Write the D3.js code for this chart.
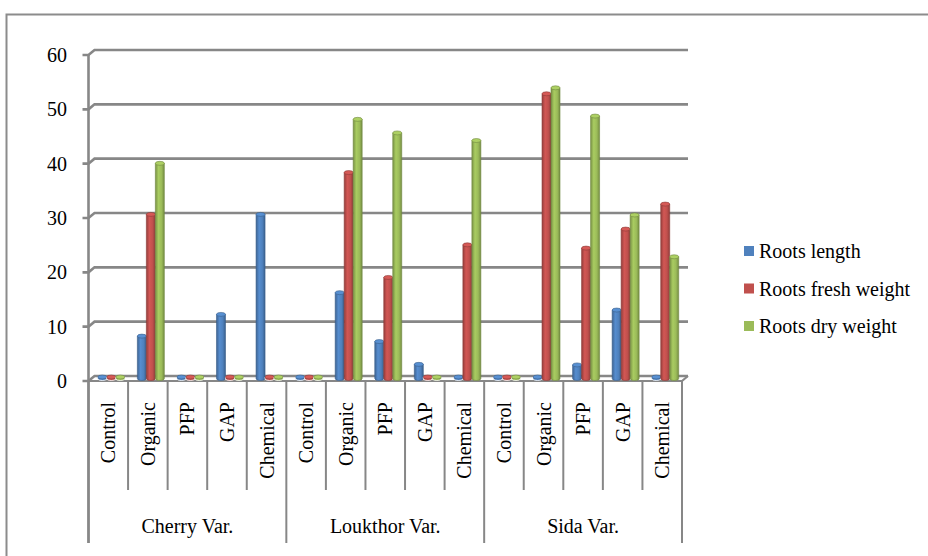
<!DOCTYPE html>
<html>
<head>
<meta charset="utf-8">
<script src="https://cdn.jsdelivr.net/npm/d3@7"></script>
<style>
  html, body { margin: 0; padding: 0; background: #fff; }
  svg { display: block; }
  text { font-family: "Liberation Serif", "Times New Roman", serif; fill: #000; }
</style>
</head>
<body>
<svg id="chart" width="928" height="556"></svg>
<script>
// Varieties and treatments on the two-level category axis
const varieties = ["Cherry Var.", "Loukthor Var.", "Sida Var."];
const treatments = ["Control", "Organic", "PFP", "GAP", "Chemical"];

// Series names and colours
const seriesNames = ["Roots length", "Roots fresh weight", "Roots dry weight"];
const seriesColors = ["#4F81BD", "#C0504D", "#9BBB59"];

// Values per category, in order Cherry (5), Loukthor (5), Sida (5)
const rootsLength      = [0, 7.8, 0, 11.8, 30.2,   0, 15.8, 6.8, 2.6, 0,     0, 0, 2.5, 12.6, 0];
const rootsFreshWeight = [0, 30.2, 0, 0, 0,        0, 37.9, 18.6, 0, 24.6,  0, 52.4, 24.0, 27.5, 32.1];
const rootsDryWeight   = [0, 39.6, 0, 0, 0,        0, 47.7, 45.2, 0, 43.8,  0, 53.5, 48.3, 30.1, 22.4];

const yTicks = [0, 10, 20, 30, 40, 50, 60];

const fontSize = 20;
const seriesValues = [rootsLength, rootsFreshWeight, rootsDryWeight];
const categories = [];
varieties.forEach(v => treatments.forEach(t => categories.push(v + "|" + t)));

const svg = d3.select("#chart");
const gridColor = "#878787";

// Outer chart frame
svg.append("rect")
  .attr("x", 6.5).attr("y", 14.5)
  .attr("width", 1000).attr("height", 700)
  .attr("fill", "none").attr("stroke", "#8c8c8c").attr("stroke-width", 2);

// Scales: front plane of the 3D box
const x = d3.scaleBand().domain(categories).range([88.5, 682]).padding(0);
const y = d3.scaleLinear().domain([0, 60]).range([381, 55]);
const xSub = d3.scaleBand().domain(seriesNames).range([0, x.bandwidth()])
  .paddingInner(0).paddingOuter(0.7);

// depth offset of the back wall and the bar plane
const depth = { dx: 6, dy: -5 };
const mid = { dx: 3, dy: -2.5 };

const x0 = x.range()[0], x1 = x.range()[1];

// Back wall gridlines with the angled connector to the value axis
const grid = svg.append("g");
yTicks.forEach(v => {
  const yy = y(v);
  grid.append("path")
    .attr("d", `M${x0 - 6},${yy} L${x0},${yy} L${x0 + depth.dx},${yy + depth.dy} L${x1 + depth.dx},${yy + depth.dy}`)
    .attr("fill", "none").attr("stroke", gridColor).attr("stroke-width", 2.6);
});

// Floor front edge and right side
grid.append("path")
  .attr("d", `M${x0},${y(0)} L${x1},${y(0)} L${x1 + depth.dx},${y(0) + depth.dy}`)
  .attr("fill", "none").attr("stroke", gridColor).attr("stroke-width", 2.2);

// Value axis line
svg.append("line")
  .attr("x1", x0).attr("x2", x0).attr("y1", y(60)).attr("y2", 543)
  .attr("stroke", gridColor).attr("stroke-width", 2.6);

// Value tick labels
svg.append("g").selectAll("text").data(yTicks).join("text")
  .attr("x", 67).attr("y", d => y(d)).attr("dy", "0.35em")
  .attr("text-anchor", "end").attr("font-size", fontSize)
  .text(d => d);

// Cylinder gradients
const defs = svg.append("defs");
seriesColors.forEach((c, i) => {
  const base = d3.color(c);
  const g = defs.append("linearGradient").attr("id", "cyl" + i)
    .attr("x1", "0%").attr("x2", "100%").attr("y1", "0%").attr("y2", "0%");
  g.append("stop").attr("offset", "0%").attr("stop-color", base.darker(0.7));
  g.append("stop").attr("offset", "35%").attr("stop-color", base.brighter(0.25));
  g.append("stop").attr("offset", "70%").attr("stop-color", base);
  g.append("stop").attr("offset", "100%").attr("stop-color", base.darker(0.8));
});

// Bars drawn as cylinders
const barW = xSub.bandwidth();
const bars = svg.append("g");
const barData = [];
categories.forEach((cat, ci) => {
  seriesNames.forEach((s, si) => {
    barData.push({ cat, s, si, v: seriesValues[si][ci] });
  });
});
const ry = 2;
barData.forEach(d => {
  const bx = x(d.cat) + xSub(d.s) + mid.dx;
  const yb = y(0) + mid.dy;
  let yt = y(d.v) + mid.dy;
  if (yb - yt < 1.5) yt = yb - 1.5;
  const col = d3.color(seriesColors[d.si]);
  const g = bars.append("g");
  // body
  g.append("path")
    .attr("d", `M${bx},${yt} L${bx},${yb} A${barW / 2},${ry} 0 0 0 ${bx + barW},${yb} L${bx + barW},${yt} Z`)
    .attr("fill", `url(#cyl${d.si})`)
    .attr("stroke", d.v === 0 ? "#fff" : col.darker(0.9)).attr("stroke-width", d.v === 0 ? 0.8 : 0.6);
  // top cap
  g.append("ellipse")
    .attr("cx", bx + barW / 2).attr("cy", yt)
    .attr("rx", barW / 2).attr("ry", ry)
    .attr("fill", col.brighter(0.3))
    .attr("stroke", col.darker(0.9)).attr("stroke-width", 0.6);
});

// Category axis: separators, inner and outer labels
const catAxis = svg.append("g");
const bounds = x.domain().map(c => x(c)).concat([x1]);
bounds.forEach((bx, i) => {
  const isGroup = i % treatments.length === 0;
  catAxis.append("line")
    .attr("x1", bx).attr("x2", bx)
    .attr("y1", y(0)).attr("y2", isGroup ? 543 : 490)
    .attr("stroke", gridColor).attr("stroke-width", 2);
});

catAxis.selectAll("text.treat").data(categories).join("text")
  .attr("class", "treat")
  .attr("transform", d => `translate(${x(d) + x.bandwidth() / 2},402) rotate(-90)`)
  .attr("dy", "0.35em")
  .attr("text-anchor", "end").attr("font-size", fontSize)
  .text(d => d.split("|")[1]);

catAxis.selectAll("text.variety").data(varieties).join("text")
  .attr("class", "variety")
  .attr("x", (d, i) => (bounds[i * 5] + bounds[i * 5 + 5]) / 2)
  .attr("y", 533)
  .attr("text-anchor", "middle").attr("font-size", fontSize)
  .text(d => d);

// Legend
const legend = svg.append("g");
const legendY = [251, 288.5, 326];
seriesNames.forEach((s, i) => {
  legend.append("rect")
    .attr("x", 744).attr("y", legendY[i] - 5)
    .attr("width", 10).attr("height", 10)
    .attr("fill", seriesColors[i]);
  legend.append("text")
    .attr("x", 759).attr("y", legendY[i]).attr("dy", "0.35em")
    .attr("font-size", fontSize)
    .text(s);
});
</script>
</body>
</html>
